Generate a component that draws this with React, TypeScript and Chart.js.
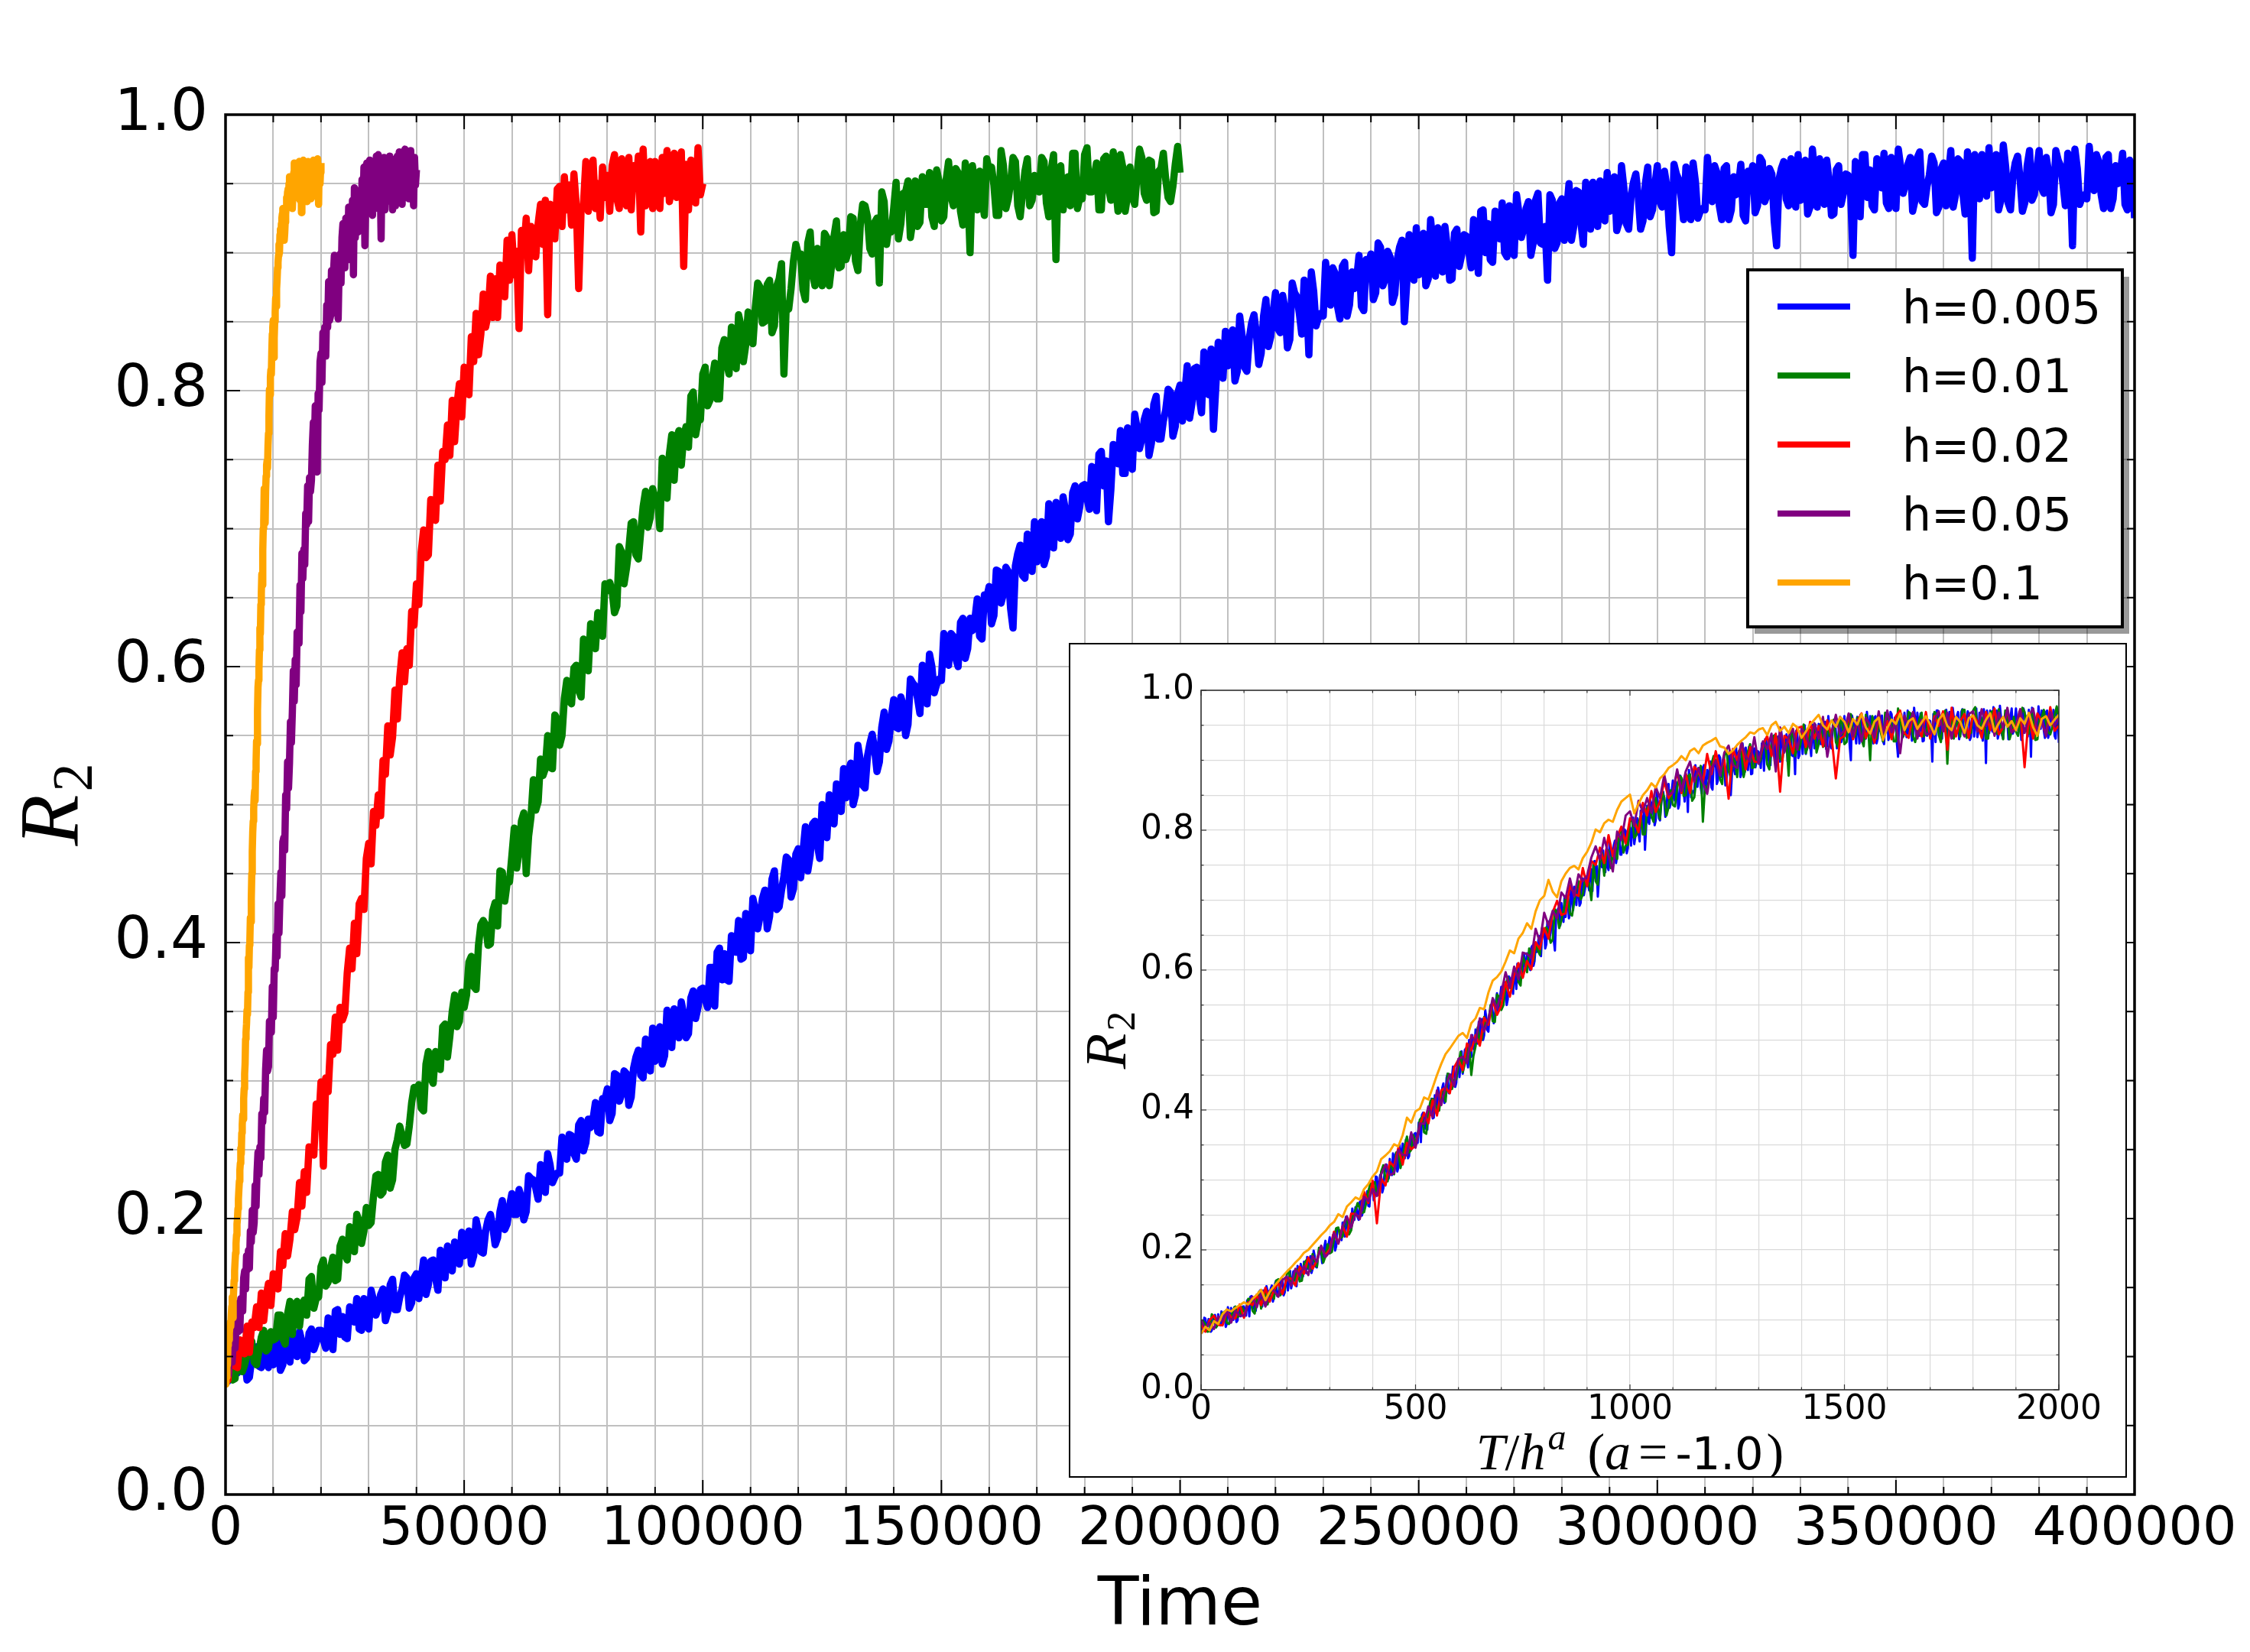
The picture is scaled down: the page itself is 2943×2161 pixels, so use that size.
import React, { useEffect, useRef } from 'react';
import { Chart, registerables } from 'chart.js';

Chart.register(...registerables);

// ---------------- data ----------------
const seriesLabels = ['h=0.005', 'h=0.01', 'h=0.02', 'h=0.05', 'h=0.1'];
const hValues = [0.005, 0.01, 0.02, 0.05, 0.1];
const seriesColors = ['#0000ff', '#008000', '#ff0000', '#800080', '#ffa500'];
// sampling interval in Time units for each series
const timeSteps = [500, 500, 500, 200, 100];

const blueR2 = [
  .098,.082,.085,.103,.102,.088,.091,.101,.099,.083,.085,.099,.103,.107,.093,.092,.108,.097,.092,.112,
  .094,.109,.112,.090,.094,.118,.110,.096,.117,.109,.100,.118,.111,.097,.099,.117,.120,.105,.110,.119,
  .119,.112,.106,.128,.126,.105,.133,.134,.116,.129,.114,.113,.136,.130,.125,.142,.120,.119,.142,.125,
  .120,.148,.141,.130,.135,.145,.149,.126,.132,.152,.156,.134,.134,.143,.149,.159,.157,.135,.139,.157,
  .160,.142,.156,.170,.145,.152,.169,.170,.157,.148,.177,.169,.157,.180,.166,.162,.183,.170,.167,.190,
  .173,.186,.191,.167,.173,.199,.191,.176,.175,.191,.199,.203,.194,.181,.186,.205,.213,.192,.196,.209,
  .218,.203,.203,.221,.215,.199,.205,.231,.229,.228,.222,.214,.239,.232,.219,.247,.239,.226,.230,.233,
  .233,.259,.250,.243,.261,.260,.247,.243,.268,.271,.249,.255,.272,.266,.272,.284,.263,.262,.287,.286,
  .294,.271,.276,.305,.304,.285,.290,.307,.305,.282,.288,.309,.317,.322,.304,.302,.330,.312,.307,.338,
  .314,.335,.339,.312,.318,.351,.340,.324,.352,.342,.331,.357,.348,.331,.334,.360,.365,.345,.353,.366,
  .367,.359,.353,.382,.382,.354,.393,.396,.373,.392,.373,.372,.405,.397,.393,.416,.388,.389,.421,.399,
  .394,.432,.424,.410,.419,.432,.438,.410,.419,.446,.452,.424,.426,.438,.448,.462,.460,.433,.439,.464,
  .468,.447,.466,.484,.452,.463,.486,.488,.471,.461,.500,.491,.476,.507,.489,.486,.515,.497,.495,.526,
  .505,.524,.530,.500,.507,.543,.532,.514,.512,.535,.544,.551,.540,.524,.531,.556,.567,.540,.546,.564,
  .576,.556,.555,.578,.572,.550,.558,.591,.588,.586,.577,.566,.601,.591,.573,.609,.600,.581,.587,.591,
  .590,.624,.611,.601,.624,.622,.606,.600,.632,.635,.606,.613,.635,.626,.634,.649,.622,.620,.652,.650,
  .658,.631,.637,.670,.669,.646,.653,.672,.669,.642,.628,.673,.682,.688,.666,.664,.696,.676,.669,.705,
  .676,.701,.705,.674,.680,.718,.705,.686,.719,.707,.693,.723,.713,.692,.696,.726,.731,.707,.716,.731,
  .732,.722,.714,.745,.744,.713,.754,.756,.731,.749,.705,.728,.761,.752,.747,.771,.740,.740,.773,.748,
  .743,.783,.773,.758,.765,.779,.785,.753,.762,.790,.796,.765,.765,.778,.786,.801,.799,.767,.774,.798,
  .804,.778,.798,.818,.780,.791,.816,.817,.796,.784,.828,.815,.797,.830,.772,.803,.835,.813,.809,.843,
  .818,.838,.844,.807,.814,.854,.840,.817,.814,.838,.849,.855,.841,.819,.827,.854,.866,.832,.839,.857,
  .871,.845,.842,.869,.859,.831,.837,.878,.871,.868,.856,.841,.880,.867,.826,.886,.872,.847,.853,.856,
  .854,.893,.875,.862,.889,.885,.861,.852,.890,.893,.854,.862,.886,.874,.881,.898,.861,.858,.895,.892,
  .899,.866,.871,.907,.904,.876,.881,.901,.897,.864,.870,.895,.904,.909,.850,.878,.913,.888,.880,.918,
  .884,.910,.914,.876,.881,.924,.906,.883,.918,.903,.886,.919,.904,.880,.881,.914,.917,.890,.898,.913,
  .912,.901,.889,.924,.921,.885,.930,.931,.900,.921,.895,.893,.930,.918,.910,.936,.900,.897,.934,.905,
  .898,.942,.929,.911,.917,.932,.937,.898,.907,.938,.943,.907,.906,.919,.880,.942,.938,.903,.907,.936,
  .939,.909,.930,.950,.909,.919,.945,.944,.922,.906,.951,.937,.917,.951,.927,.919,.952,.928,.923,.958,
  .930,.950,.955,.916,.922,.963,.947,.921,.917,.941,.951,.957,.941,.917,.923,.950,.962,.926,.931,.949,
  .963,.937,.933,.959,.948,.919,.900,.964,.957,.953,.940,.924,.962,.948,.924,.965,.951,.925,.930,.932,
  .931,.969,.951,.937,.963,.958,.934,.924,.961,.963,.924,.931,.955,.942,.948,.964,.927,.923,.959,.955,
  .963,.929,.934,.969,.966,.937,.942,.961,.957,.923,.905,.953,.961,.966,.939,.934,.968,.942,.933,.971,
  .938,.963,.967,.928,.933,.975,.957,.933,.968,.952,.935,.967,.952,.927,.928,.960,.963,.935,.943,.957,
  .956,.944,.898,.966,.963,.926,.971,.971,.940,.960,.934,.931,.968,.955,.947,.972,.936,.932,.969,.939,
  .932,.975,.962,.943,.949,.964,.969,.930,.938,.969,.973,.937,.935,.948,.956,.970,.965,.929,.933,.961,
  .965,.934,.955,.974,.933,.942,.968,.966,.944,.928,.973,.958,.896,.971,.947,.939,.971,.947,.941,.976,
  .947,.966,.971,.931,.938,.978,.962,.936,.931,.955,.965,.970,.954,.930,.936,.963,.974,.938,.942,.960,
  .974,.947,.943,.969,.958,.929,.935,.974,.967,.963,.950,.934,.972,.958,.905,.975,.961,.935,.940,.942,
  .939,.977,.959,.945,.971,.966,.942,.932,.969,.971,.932,.939,.963,.950,.956,.972,.935,.931,.967,.963,
  .925,
];

const greenR2 = [
  .096,.098,.094,.083,.084,.108,.104,.089,.094,.101,.110,.111,.096,.094,.104,.114,.119,.104,.106,.118,
  .112,.113,.130,.130,.113,.109,.131,.140,.116,.137,.140,.122,.137,.141,.130,.156,.158,.135,.142,.143,
  .165,.170,.151,.154,.164,.172,.155,.156,.180,.185,.174,.170,.194,.183,.176,.203,.198,.182,.191,.208,
  .195,.197,.216,.231,.232,.217,.219,.241,.246,.222,.228,.250,.257,.267,.260,.253,.254,.267,.284,.295,
  .294,.297,.280,.278,.312,.321,.302,.298,.321,.320,.308,.339,.341,.317,.332,.350,.362,.339,.343,.364,
  .353,.362,.386,.390,.368,.366,.398,.413,.416,.413,.398,.399,.423,.429,.412,.452,.451,.430,.443,.444,
  .463,.483,.454,.466,.488,.494,.450,.477,.491,.518,.496,.502,.533,.521,.526,.550,.527,.526,.565,.562,
  .543,.550,.577,.590,.575,.573,.599,.601,.583,.578,.620,.611,.597,.631,.623,.613,.639,.628,.622,.660,
  .655,.661,.655,.639,.644,.687,.683,.660,.671,.685,.704,.705,.681,.678,.698,.716,.727,.701,.708,.729,
  .722,.724,.700,.751,.727,.722,.754,.768,.735,.765,.771,.746,.767,.774,.759,.796,.799,.768,.778,.779,
  .812,.817,.789,.793,.809,.820,.794,.794,.831,.837,.820,.812,.846,.828,.816,.855,.847,.821,.833,.857,
  .836,.834,.860,.878,.875,.849,.850,.877,.880,.842,.847,.876,.881,.892,.812,.863,.859,.874,.894,.906,
  .899,.899,.873,.866,.907,.915,.885,.876,.903,.897,.876,.914,.911,.876,.891,.912,.923,.889,.890,.913,
  .895,.901,.926,.925,.894,.887,.920,.935,.934,.926,.903,.899,.922,.925,.878,.944,.937,.906,.919,.915,
  .932,.951,.910,.921,.943,.944,.952,.911,.923,.952,.919,.922,.955,.935,.935,.958,.926,.919,.960,.952,
  .923,.926,.953,.966,.941,.934,.961,.958,.930,.920,.965,.950,.900,.963,.949,.931,.959,.939,.927,.968,
  .959,.962,.949,.927,.927,.974,.963,.932,.939,.951,.969,.966,.934,.926,.943,.959,.968,.934,.938,.956,
  .945,.944,.969,.966,.936,.926,.960,.971,.895,.960,.963,.931,.952,.955,.934,.972,.972,.932,.940,.939,
  .971,.976,.944,.944,.955,.965,.931,.931,.968,.970,.947,.938,.973,.949,.930,.971,.962,.930,.941,.962,
  .941,.935,.957,.975,.969,.943,.938,.967,.966,.929,.930,.959,.961,.972,.953,.940,.937,.948,.964,.977,
  .958,
];

const redR2 = [
  .093,.083,.100,.106,.093,.092,.112,.104,.102,.122,
  .103,.125,.121,.136,.121,.146,.126,.143,.153,.137,
  .160,.159,.149,.176,.166,.189,.173,.185,.205,.192,
  .201,.226,.209,.234,.219,.252,.251,.246,.283,.267,
  .299,.238,.302,.292,.326,.319,.346,.322,.353,.344,
  .349,.378,.396,.381,.414,.392,.428,.432,.424,.461,
  .472,.457,.495,.485,.507,.492,.532,.522,.557,.536,
  .549,.583,.562,.592,.610,.589,.613,.601,.640,.630,
  .660,.645,.683,.699,.679,.681,.721,.709,.706,.746,
  .720,.756,.750,.775,.753,.793,.763,.790,.805,.781,
  .817,.813,.797,.839,.821,.856,.826,.841,.870,.846,
  .855,.883,.853,.881,.853,.891,.883,.868,.909,.880,
  .913,.884,.901,.845,.916,.900,.925,.887,.919,.898,
  .897,.921,.935,.906,.938,.855,.935,.930,.910,.946,
  .948,.919,.955,.931,.949,.920,.957,.934,.874,.931,
  .935,.966,.930,.956,.967,.932,.950,.925,.962,.940,
  .956,.930,.963,.971,.939,.932,.968,.946,.934,.969,
  .931,.963,.949,.970,.915,.975,.934,.956,.966,.932,
  .966,.955,.932,.969,.943,.974,.937,.947,.972,.940,
  .948,.973,.890,.964,.931,.967,.955,.936,.976,.942,
  .950,
];

const purpleR2 = [
  .100,.087,.096,.087,.105,.098,.113,.096,.113,.106,
  .106,.122,.133,.118,.139,.119,.142,.142,.133,.157,
  .162,.149,.173,.163,.177,.164,.191,.183,.206,.190,
  .197,.224,.209,.233,.248,.232,.252,.244,.276,.270,
  .287,.277,.308,.322,.307,.310,.343,.336,.335,.368,
  .346,.381,.380,.405,.390,.428,.407,.433,.451,.434,
  .473,.476,.467,.507,.497,.531,.512,.530,.560,.545,
  .567,.597,.575,.605,.587,.625,.623,.617,.659,.640,
  .682,.664,.685,.674,.711,.703,.731,.705,.737,.727,
  .735,.761,.777,.758,.789,.764,.741,.798,.786,.821,
  .827,.806,.842,.826,.846,.825,.862,.846,.879,.851,
  .854,.887,.856,.884,.898,.869,.889,.868,.852,.889,
  .899,.878,.911,.921,.893,.889,.925,.906,.898,.933,
  .895,.927,.916,.938,.884,.947,.911,.934,.945,.915,
  .945,.937,.917,.953,.931,.962,.905,.939,.965,.936,
  .943,.967,.934,.958,.927,.961,.950,.932,.970,.938,
  .971,.940,.955,.910,.964,.947,.969,.931,.958,.937,
  .938,.958,.970,.941,.968,.931,.962,.955,.934,.966,
  .970,.941,.973,.949,.964,.935,.968,.946,.975,.940,
  .944,.973,.939,.963,.974,.941,.958,.934,.969,.949,
  .960,
];

const orangeR2 = [
  .080,.090,.085,.098,.094,.108,.115,.112,.117,.121,
  .125,.122,.130,.136,.143,.128,.140,.148,.155,.162,
  .169,.175,.182,.188,.196,.200,.207,.214,.221,.227,
  .235,.240,.251,.247,.262,.268,.275,.272,.287,.294,
  .305,.312,.330,.335,.341,.351,.348,.364,.389,.382,
  .398,.402,.418,.415,.432,.450,.466,.480,.488,.497,
  .506,.510,.503,.524,.531,.546,.544,.568,.585,.590,
  .598,.612,.628,.624,.645,.653,.667,.659,.684,.700,
  .706,.729,.712,.704,.727,.738,.746,.749,.744,.760,
  .769,.782,.801,.797,.810,.815,.812,.829,.841,.846,
  .851,.824,.838,.850,.857,.867,.861,.874,.880,.889,
  .893,.898,.906,.900,.913,.917,.910,.921,.925,.928,
  .932,.920,.918,.909,.914,.922,.928,.933,.940,.938,
  .944,.946,.936,.950,.955,.942,.948,.939,.952,.947,
  .932,.941,.951,.958,.965,.950,.944,.957,.948,.962,
  .955,.940,.959,.951,.966,.947,.938,.955,.961,.929,
  .946,.958,.952,.967,.943,.956,.960,.945,.954,.963,
  .951,.937,.958,.966,.949,.943,.962,.955,.939,.960,
  .964,.950,.945,.958,.967,.941,.953,.962,.948,.956,
  .943,.960,.952,.968,.947,.935,.959,.963,.950,.958,
  .965,
];

const seriesValues = [blueR2, greenR2, redR2, purpleR2, orangeR2];

// tick labels
const mainXTickLabels = ['0', '50000', '100000', '150000', '200000', '250000', '300000', '350000', '400000'];
const yTickLabels = ['0.0', '0.2', '0.4', '0.6', '0.8', '1.0'];
const insetXTickLabels = ['0', '500', '1000', '1500', '2000'];

// ---------------- helpers ----------------
type Part = { t: string; font: string; dy?: number; dx?: number };

function partsWidth(ctx: CanvasRenderingContext2D, parts: Part[]) {
  let w = 0;
  for (const p of parts) {
    ctx.font = p.font;
    w += ctx.measureText(p.t).width + (p.dx || 0);
  }
  return w;
}

function drawParts(ctx: CanvasRenderingContext2D, parts: Part[], cx: number, y: number) {
  const total = partsWidth(ctx, parts);
  let x = cx - total / 2;
  ctx.textAlign = 'left';
  ctx.textBaseline = 'alphabetic';
  for (const p of parts) {
    ctx.font = p.font;
    x += p.dx || 0;
    ctx.fillText(p.t, x, y + (p.dy || 0));
    x += ctx.measureText(p.t).width;
  }
}

function seg(ctx: CanvasRenderingContext2D, x1: number, y1: number, x2: number, y2: number) {
  ctx.beginPath();
  ctx.moveTo(x1, y1);
  ctx.lineTo(x2, y2);
  ctx.stroke();
}

function drawFrameTicks(
  chart: any,
  xMax: number,
  xMinor: number,
  xMajor: number,
  majorLen: number,
  minorLen: number,
  tickWidth: number,
  frameWidth: number,
  color: string,
) {
  const { ctx, chartArea: a, scales } = chart;
  const xs = scales.x;
  const ys = scales.y;
  ctx.save();
  ctx.strokeStyle = color;
  ctx.lineWidth = tickWidth;
  const nx = Math.round(xMax / xMinor);
  for (let i = 0; i <= nx; i++) {
    const v = i * xMinor;
    const px = xs.getPixelForValue(v);
    const len = Math.round(v) % xMajor === 0 ? majorLen : minorLen;
    seg(ctx, px, a.bottom, px, a.bottom - len);
    seg(ctx, px, a.top, px, a.top + len);
  }
  for (let k = 0; k <= 20; k++) {
    const py = ys.getPixelForValue(k * 0.05);
    const len = k % 4 === 0 ? majorLen : minorLen;
    seg(ctx, a.left, py, a.left + len, py);
    seg(ctx, a.right, py, a.right - len, py);
  }
  ctx.lineWidth = frameWidth;
  ctx.strokeRect(a.left, a.top, a.right - a.left, a.bottom - a.top);
  ctx.restore();
}

const serifIt = (px: number) => `italic ${px}px 'Liberation Serif'`;
const serif = (px: number) => `${px}px 'Liberation Serif'`;
const sans = (px: number) => `${px}px 'DejaVu Sans'`;

const mainDecor = {
  id: 'mainDecor',
  afterDatasetsDraw(chart: any) {
    drawFrameTicks(chart, 400000, 10000, 50000, 19, 10, 2, 3.5, '#000');
    // legend
    const { ctx, chartArea: a } = chart;
    const boxW = 490;
    const boxH = 467;
    const bx = a.right - 16 - boxW;
    const by = a.top + 203;
    ctx.save();
    ctx.fillStyle = 'rgba(0,0,0,0.4)';
    ctx.fillRect(bx + 9, by + 9, boxW, boxH);
    ctx.fillStyle = '#fff';
    ctx.fillRect(bx, by, boxW, boxH);
    ctx.strokeStyle = '#000';
    ctx.lineWidth = 4;
    ctx.strokeRect(bx, by, boxW, boxH);
    chart.data.datasets.forEach((ds: any, k: number) => {
      const cy = by + 48 + k * 90.25;
      ctx.strokeStyle = ds.borderColor;
      ctx.lineWidth = 8;
      ctx.lineCap = 'butt';
      seg(ctx, bx + 39, cy, bx + 134, cy);
      ctx.fillStyle = '#000';
      ctx.font = sans(60);
      ctx.textAlign = 'left';
      ctx.textBaseline = 'alphabetic';
      ctx.fillText(ds.label, bx + 202, cy + 22);
    });
    ctx.restore();
  },
  afterDraw(chart: any) {
    const { ctx, chartArea: a } = chart;
    ctx.save();
    ctx.fillStyle = '#000';
    ctx.translate(102, (a.top + a.bottom) / 2);
    ctx.rotate(-Math.PI / 2);
    drawParts(ctx, [
      { t: 'R', font: serifIt(110) },
      { t: '2', font: serif(74), dy: 18, dx: 4 },
    ], 0, 0);
    ctx.restore();
  },
};

const insetDecor = {
  id: 'insetDecor',
  beforeDraw(chart: any) {
    const { ctx, width, height } = chart;
    ctx.save();
    ctx.fillStyle = '#fff';
    ctx.fillRect(0, 0, width, height);
    ctx.restore();
  },
  afterDatasetsDraw(chart: any) {
    drawFrameTicks(chart, 2000, 100, 500, 7, 3.5, 1.2, 1.6, '#333');
  },
  afterDraw(chart: any) {
    const { ctx, chartArea: a, width, height } = chart;
    ctx.save();
    ctx.strokeStyle = '#000';
    ctx.lineWidth = 2;
    ctx.strokeRect(1, 1, width - 2, height - 2);
    ctx.fillStyle = '#000';
    // x label
    drawParts(ctx, [
      { t: 'T', font: serifIt(68) },
      { t: '/', font: serif(68) },
      { t: 'h', font: serifIt(68) },
      { t: 'a', font: serifIt(48), dy: -26, dx: 3 },
      { t: '(', font: serif(68), dx: 28 },
      { t: 'a', font: serifIt(68) },
      { t: '=', font: serif(68), dx: 10 },
      { t: '-1.0', font: sans(59), dx: 10 },
      { t: ')', font: serif(68), dx: 4 },
    ], (a.left + a.right) / 2, 1081);
    // y label
    ctx.translate(74, (a.top + a.bottom) / 2);
    ctx.rotate(-Math.PI / 2);
    drawParts(ctx, [
      { t: 'R', font: serifIt(76) },
      { t: '2', font: serif(52), dy: 12, dx: 3 },
    ], 0, 0);
    ctx.restore();
  },
};

function buildPoints(values: number[], step: number, scale: number) {
  return values.map((v, i) => ({ x: i * step * scale, y: v }));
}

function makeDatasets(inset: boolean) {
  return seriesLabels.map((label, k) => ({
    label,
    data: buildPoints(seriesValues[k], timeSteps[k], inset ? hValues[k] : 1),
    borderColor: seriesColors[k],
    backgroundColor: seriesColors[k],
    borderWidth: inset ? 3 : 9.5,
    pointRadius: 0,
    pointHoverRadius: 0,
    tension: 0,
    fill: false,
    order: seriesLabels.length - 1 - k,
    clip: 0,
    borderJoinStyle: 'round' as const,
    borderCapStyle: 'butt' as const,
  }));
}

export default function App() {
  const mainRef = useRef<HTMLCanvasElement | null>(null);
  const insetRef = useRef<HTMLCanvasElement | null>(null);

  useEffect(() => {
    if (!mainRef.current || !insetRef.current) return;
    const gridMain = { color: '#c0c0c0', lineWidth: 2, drawTicks: false };
    const gridInset = { color: '#dadada', lineWidth: 1.2, drawTicks: false };

    const main = new Chart(mainRef.current, {
      type: 'line',
      data: { datasets: makeDatasets(false) as any },
      options: {
        animation: false,
        responsive: false,
        maintainAspectRatio: false,
        devicePixelRatio: 1,
        events: [],
        layout: { padding: { left: 0, top: 150, right: 151, bottom: 0 } },
        plugins: { legend: { display: false }, tooltip: { enabled: false } },
        scales: {
          x: {
            type: 'linear',
            min: 0,
            max: 400000,
            afterFit: (s: any) => { s.height = 206; },
            ticks: {
              stepSize: 10000,
              autoSkip: false,
              maxRotation: 0,
              minRotation: 0,
              padding: 5,
              color: '#000',
              font: { family: 'DejaVu Sans', size: 70 },
              callback: (v: any) => {
                const n = Math.round(Number(v));
                return n % 50000 === 0 ? mainXTickLabels[n / 50000] : '';
              },
            },
            grid: gridMain,
            border: { display: false },
            title: {
              display: true,
              text: 'Time',
              color: '#000',
              font: { family: 'DejaVu Sans', size: 88 },
              padding: { top: 0, bottom: 6 },
            },
          },
          y: {
            type: 'linear',
            min: 0,
            max: 1,
            afterFit: (s: any) => { s.width = 295; },
            ticks: {
              stepSize: 0.05,
              autoSkip: false,
              padding: 23,
              color: '#000',
              font: { family: 'DejaVu Sans', size: 77 },
              callback: (v: any) => {
                const k = Math.round(Number(v) * 100);
                return k % 20 === 0 ? yTickLabels[k / 20] : '';
              },
            },
            grid: gridMain,
            border: { display: false },
          },
        },
      } as any,
      plugins: [mainDecor],
    });

    const inset = new Chart(insetRef.current, {
      type: 'line',
      data: { datasets: makeDatasets(true) as any },
      options: {
        animation: false,
        responsive: false,
        maintainAspectRatio: false,
        devicePixelRatio: 1,
        events: [],
        layout: { padding: { left: 0, top: 62, right: 89, bottom: 0 } },
        plugins: { legend: { display: false }, tooltip: { enabled: false } },
        scales: {
          x: {
            type: 'linear',
            min: 0,
            max: 2000,
            afterFit: (s: any) => { s.height = 115; },
            ticks: {
              stepSize: 100,
              autoSkip: false,
              maxRotation: 0,
              minRotation: 0,
              padding: 0,
              color: '#000',
              font: { family: 'DejaVu Sans', size: 44 },
              callback: (v: any) => {
                const n = Math.round(Number(v));
                return n % 500 === 0 ? insetXTickLabels[n / 500] : '';
              },
            },
            grid: gridInset,
            border: { display: false },
          },
          y: {
            type: 'linear',
            min: 0,
            max: 1,
            afterFit: (s: any) => { s.width = 173; },
            ticks: {
              stepSize: 0.05,
              autoSkip: false,
              padding: 9,
              color: '#000',
              font: { family: 'DejaVu Sans', size: 44 },
              callback: (v: any) => {
                const k = Math.round(Number(v) * 100);
                return k % 20 === 0 ? yTickLabels[k / 20] : '';
              },
            },
            grid: gridInset,
            border: { display: false },
          },
        },
      } as any,
      plugins: [insetDecor],
    });

    return () => {
      main.destroy();
      inset.destroy();
    };
  }, []);

  return (
    <div style={{ position: 'absolute', left: 0, top: 0, width: 2943, height: 2161, background: '#fff' }}>
      <canvas
        ref={mainRef}
        width={2943}
        height={2161}
        style={{ position: 'absolute', left: 0, top: 0, width: 2943, height: 2161 }}
      />
      <canvas
        ref={insetRef}
        width={1384}
        height={1092}
        style={{ position: 'absolute', left: 1398, top: 841, width: 1384, height: 1092 }}
      />
    </div>
  );
}
